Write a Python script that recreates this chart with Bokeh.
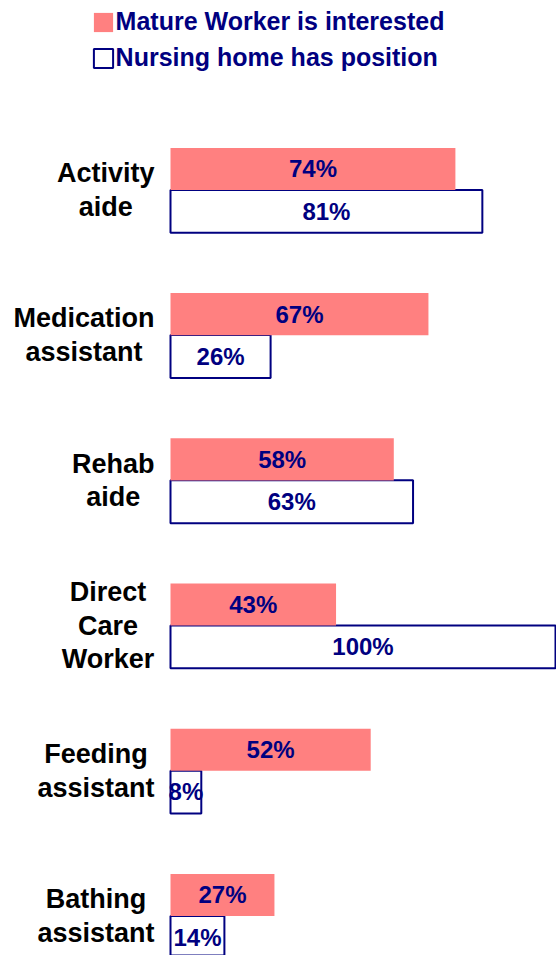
from bokeh.plotting import figure
from bokeh.models import ColumnDataSource, Range1d, Legend, LegendItem
from bokeh.transform import dodge
from bokeh.core.properties import value
from bokeh.embed import file_html
from bokeh.resources import INLINE

categories = ["Activity\naide", "Medication\nassistant", "Rehab\naide",
              "Direct\nCare\nWorker", "Feeding\nassistant", "Bathing\nassistant"]
interested = [74, 67, 58, 43, 52, 27]
position = [81, 26, 63, 100, 8, 14]
series_names = ["Mature Worker is interested", "Nursing home has position"]

PINK = "#FF8080"
NAVY = "#000080"
FONT = "Liberation Sans"
CAT_SIZE = 27

# Arial/Liberation Sans Bold advance widths (per 1000 em), used to centre
# the lines of each right-aligned category label block
ADV = {"A": 722, "B": 722, "C": 722, "D": 722, "F": 611, "M": 833, "R": 722,
       "W": 944, "a": 556, "b": 611, "c": 556, "d": 611, "e": 556, "g": 611,
       "h": 611, "i": 278, "k": 556, "n": 611, "o": 611, "r": 389, "s": 556,
       "t": 333, "v": 556, "y": 556}


def block_width(label):
    return max(sum(ADV.get(ch, 556) for ch in line) for line in label.split("\n")) * CAT_SIZE / 1000


src = ColumnDataSource(dict(
    y=list(range(len(categories))),
    cat=categories,
    cat_off=[-16 - block_width(c) / 2 for c in categories],
    a=interested,
    b=position,
    a_half=[v / 2 for v in interested],
    b_half=[v / 2 for v in position],
    a_lab=[f"{v}%" for v in interested],
    b_lab=[f"{v}%" for v in position],
    zero=[0] * len(categories),
))

W, H = 556, 955
p = figure(width=W, height=H, output_backend="svg", toolbar_location=None,
           x_range=Range1d(-170 / 3.85, (W - 170) / 3.85),
           y_range=Range1d(5.272, -1.305),
           min_border=0, outline_line_color=None)
p.axis.visible = False
p.grid.visible = False
p.background_fill_color = "white"

rb = p.hbar(y=dodge("y", 0.147, range=p.y_range), left=0, right="b", height=0.295,
            source=src, fill_color="white", line_color=NAVY, line_width=2)
ra = p.hbar(y=dodge("y", -0.145, range=p.y_range), left=0, right="a", height=0.29,
            source=src, fill_color=PINK, line_color=None)

p.text(x="a_half", y=dodge("y", -0.145, range=p.y_range), text="a_lab", source=src,
       text_align="center", text_baseline="middle", text_color=NAVY,
       text_font=value(FONT), text_font_style="bold", text_font_size="24px")
p.text(x="b_half", y=dodge("y", 0.145, range=p.y_range), text="b_lab", source=src,
       text_align="center", text_baseline="middle", text_color=NAVY,
       text_font=value(FONT), text_font_style="bold", text_font_size="24px")

p.text(x="zero", y="y", text="cat", source=src, x_offset="cat_off",
       text_align="center", text_baseline="middle", text_color="black",
       text_font=value(FONT), text_font_style="bold",
       text_font_size=f"{CAT_SIZE}px", text_line_height=1.12)

legend = Legend(items=[LegendItem(label=series_names[0], renderers=[ra]),
                       LegendItem(label=series_names[1], renderers=[rb])],
                location=(90.6, H - 72), orientation="vertical",
                glyph_width=24, glyph_height=24, label_height=24,
                label_standoff=1, spacing=7, padding=0, margin=0,
                border_line_color=None, background_fill_alpha=0,
                label_text_font=FONT, label_text_font_style="bold",
                label_text_font_size="25px", label_text_color=NAVY)
p.add_layout(legend)

open("out.html", "w").write(file_html(p, INLINE))
